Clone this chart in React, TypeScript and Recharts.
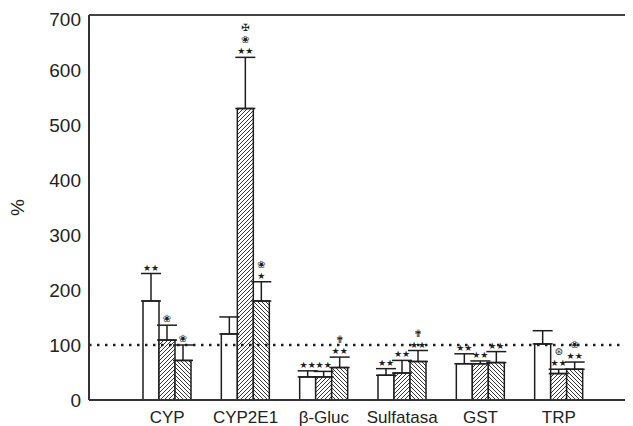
import React from "react";
import {
  BarChart,
  Bar,
  XAxis,
  YAxis,
  ErrorBar,
  LabelList,
  ReferenceLine,
  Label,
} from "recharts";

// values (% of control)
const categories = ["CYP", "CYP2E1", "β-Gluc", "Sulfatasa", "GST", "TRP"];
const control = [180, 120, 42, 45, 66, 102];
const controlErr = [50, 31, 11, 12, 18, 24];
const treatA = [109, 530, 42, 49, 66, 48];
const treatAErr = [27, 93, 10, 23, 5, 8];
const treatB = [72, 180, 59, 70, 68, 56];
const treatBErr = [28, 35, 19, 20, 20, 13];
const yTicks = [0, 100, 200, 300, 400, 500, 600, 700];

// significance marks, top line first
const controlMarks = [["★★"], [], ["★★"], ["★★"], ["★★"], []];
const treatAMarks = [["❀"], ["✠", "❀", "★★"], ["★★"], ["★★"], ["★★"], ["⊛", "★★"]];
const treatBMarks = [["❀"], ["❀", "★"], ["✟", "★★"], ["✟", "★★"], ["★★"], ["❀", "★★"]];

const data = categories.map((name, i) => ({
  name,
  control: control[i],
  controlErr: [0, controlErr[i]],
  treatA: treatA[i],
  treatAErr: [0, treatAErr[i]],
  treatB: treatB[i],
  treatBErr: [0, treatBErr[i]],
}));

const ink = "#1e1e1e";
const sans = "Liberation Sans, Arial, sans-serif";

function marksRenderer(values: number[], errs: number[], marks: string[][]) {
  return (props: any) => {
    const { x, y, width, height, index } = props;
    const lines = marks[index];
    if (!lines || !lines.length) return null;
    const perUnit = height / values[index];
    const cx = x + width / 2;
    // stack the lines upward from the error bar cap
    let base = y - errs[index] * perUnit - 3;
    const items: any[] = [];
    for (let k = lines.length - 1; k >= 0; k--) {
      const s = lines[k];
      const star = s.startsWith("★");
      items.push(
        <text
          key={k}
          x={cx}
          y={base}
          textAnchor="middle"
          fontFamily="DejaVu Sans"
          fontSize={star ? 9 : 10}
          fill={ink}
        >
          {s}
        </text>
      );
      base -= star ? 11 : 12;
    }
    return <g>{items}</g>;
  };
}

export default function App() {
  return (
    <BarChart
      width={625}
      height={418}
      data={data}
      margin={{ top: 7, right: 0, left: 0, bottom: 0 }}
      barGap={0}
      barSize={16}
    >
      <defs>
        <pattern id="hatchA" width="4" height="4" patternUnits="userSpaceOnUse">
          <rect width="4" height="4" fill="#fff" />
          <path d="M-1,1 L1,-1 M0,4 L4,0 M3,5 L5,3" stroke={ink} strokeWidth="0.9" />
        </pattern>
        <pattern id="hatchB" width="4" height="4" patternUnits="userSpaceOnUse">
          <rect width="4" height="4" fill="#fff" />
          <path d="M-1,3 L1,5 M0,0 L4,4 M3,-1 L5,1" stroke={ink} strokeWidth="0.9" />
        </pattern>
      </defs>
      <XAxis
        dataKey="name"
        height={26}
        padding={{ left: 39, right: 35 }}
        tickLine={false}
        tickMargin={5}
        axisLine={{ stroke: "#333", strokeWidth: 2 }}
        tick={{ fill: "#222", fontSize: 17, fontFamily: sans }}
        interval={0}
      />
      <YAxis
        width={81}
        domain={[0, 700]}
        ticks={yTicks}
        tickLine={false}
        axisLine={{ stroke: "#333", strokeWidth: 2 }}
        tick={{ fill: "#222", fontSize: 19, fontFamily: sans }}
      >
        <Label
          content={({ viewBox }: any) => {
            const cx = viewBox.x + 11;
            const cy = viewBox.y + viewBox.height / 2;
            return (
              <text
                x={cx}
                y={cy}
                transform={`rotate(-90 ${cx} ${cy})`}
                textAnchor="middle"
                dominantBaseline="middle"
                fontSize={19}
                fontFamily={sans}
                fill="#222"
              >
                %
              </text>
            );
          }}
        />
      </YAxis>
      <ReferenceLine y={700} stroke="#444" strokeWidth={2} />
      <ReferenceLine y={100} stroke={ink} strokeWidth={2.5} strokeDasharray="2.5 5.5" />
      <Bar dataKey="control" fill="#fff" stroke={ink} strokeWidth={1.5} isAnimationActive={false}>
        <ErrorBar dataKey="controlErr" direction="y" width={10} stroke={ink} strokeWidth={1.5} />
        <LabelList content={marksRenderer(control, controlErr, controlMarks)} />
      </Bar>
      <Bar dataKey="treatA" fill="url(#hatchA)" stroke={ink} strokeWidth={1.5} isAnimationActive={false}>
        <ErrorBar dataKey="treatAErr" direction="y" width={10} stroke={ink} strokeWidth={1.5} />
        <LabelList content={marksRenderer(treatA, treatAErr, treatAMarks)} />
      </Bar>
      <Bar dataKey="treatB" fill="url(#hatchB)" stroke={ink} strokeWidth={1.5} isAnimationActive={false}>
        <ErrorBar dataKey="treatBErr" direction="y" width={10} stroke={ink} strokeWidth={1.5} />
        <LabelList content={marksRenderer(treatB, treatBErr, treatBMarks)} />
      </Bar>
    </BarChart>
  );
}
